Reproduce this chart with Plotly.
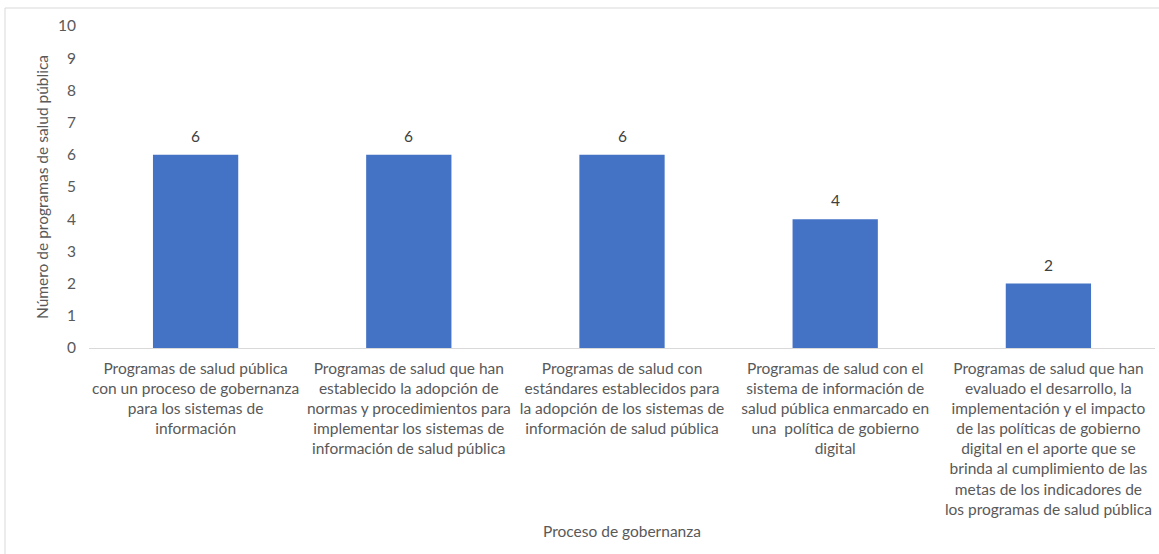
import plotly.graph_objects as go

# Governance process categories (line breaks as shown under each bar)
categories = [
    "Programas de salud pública<br>con un proceso de gobernanza<br>para los sistemas de<br>información",
    "Programas de salud que han<br>establecido la adopción de<br>normas y procedimientos para<br>implementar los sistemas de<br>información de salud pública",
    "Programas de salud con<br>estándares establecidos para<br>la adopción de los sistemas de<br>información de salud pública",
    "Programas de salud con el<br>sistema de información de<br>salud pública enmarcado en<br>una  política de gobierno<br>digital",
    "Programas de salud que han<br>evaluado el desarrollo, la<br>implementación y el impacto<br>de las políticas de gobierno<br>digital en el aporte que se<br>brinda al cumplimiento de las<br>metas de los indicadores de<br>los programas de salud pública",
]
values = [6, 6, 6, 4, 2]
y_ticks = list(range(0, 11))

FONT = "Lato, 'Noto Sans', sans-serif"
GREY_TEXT = "#595959"
SIZE = 15.5

fig = go.Figure(
    go.Bar(
        x=categories,
        y=values,
        marker=dict(color="#4472C4", line=dict(width=0)),
        hoverinfo="x+y",
    )
)

# value labels above each bar
for cat, val in zip(categories, values):
    fig.add_annotation(
        x=cat, y=val, xref="x", yref="y",
        text=str(val), showarrow=False,
        yanchor="bottom", yshift=8,
        font=dict(family=FONT, size=SIZE, color="#404040"),
    )

fig.update_layout(
    width=1159,
    height=554,
    margin=dict(l=89, r=4, t=26, b=206),
    paper_bgcolor="white",
    plot_bgcolor="white",
    bargap=0.6,
    showlegend=False,
    font=dict(family=FONT, size=SIZE, color=GREY_TEXT),
    xaxis=dict(
        showline=True,
        linecolor="#d9d9d9",
        linewidth=1,
        showgrid=False,
        ticks="",
        tickangle=0,
        ticklabelstandoff=6,
        tickfont=dict(family=FONT, size=SIZE, color=GREY_TEXT),
        title=dict(text="Proceso de gobernanza", standoff=9,
                   font=dict(family=FONT, size=SIZE, color=GREY_TEXT)),
        automargin=False,
    ),
    yaxis=dict(
        range=[0, 10],
        tickvals=y_ticks,
        showline=False,
        showgrid=False,
        zeroline=False,
        ticks="",
        ticklabelstandoff=12,
        tickfont=dict(family=FONT, size=SIZE, color=GREY_TEXT),
        title=dict(text="Número de programas de salud pública",
                   font=dict(family=FONT, size=SIZE, color=GREY_TEXT), standoff=5),
        automargin=False,
    ),
    shapes=[
        dict(type="rect", xref="paper", yref="paper",
             x0=(5 - 89) / 1066, x1=1.2, y0=-0.8, y1=(348 - 8) / 322,
             line=dict(color="#d9d9d9", width=1), fillcolor="rgba(0,0,0,0)",
             layer="below"),
    ],
)

fig.write_html("out.html")
